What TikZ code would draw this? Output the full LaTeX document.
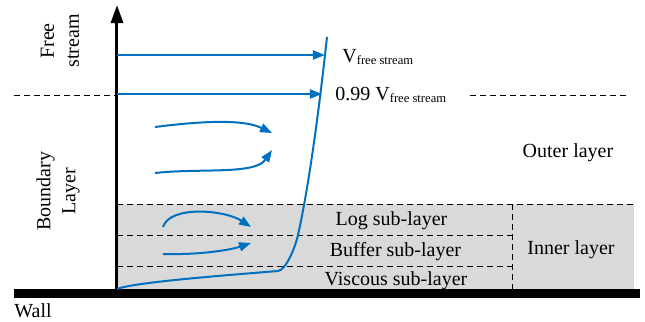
\documentclass[tikz,border=0pt]{standalone}
\usepackage{fontspec}
\setmainfont{Liberation Serif}
\usetikzlibrary{arrows.meta}
\definecolor{flowblue}{HTML}{0070C0}
\definecolor{layergray}{HTML}{D9D9D9}
\newcommand{\fsub}{\raisebox{-1pt}{\fontsize{6.3}{7}\selectfont free stream}}

\begin{document}
\begin{tikzpicture}[x=0.5pt,y=-0.5pt,
  every node/.style={inner sep=0pt,font=\fontsize{10}{12.5}\selectfont}
]

\tikzstyle{flow}=[draw=flowblue,line width=1pt,-{Triangle[length=6pt,width=4.5pt]}]
\tikzstyle{layerline}=[dash pattern=on 3pt off 2pt,line width=0.4pt]
\tikzstyle{lbl}=[anchor=base]
\tikzstyle{sidelbl}=[rotate=90,align=center]

\useasboundingbox (0,0) rectangle (645,322);

\fill[layergray] (117,204) rectangle (634,289);
\fill (14,289) rectangle (640,298);

\draw[layerline] (117,204) -- (634,204);
\draw[layerline] (117,235) -- (512,235);
\draw[layerline] (117,266) -- (512,266);
\draw[layerline] (512,204) -- (512,289);
\draw[layerline] (14,95) -- (117,95);
\draw[layerline] (470,95) -- (628,95);

\coordinate (o) at (117,289);
\coordinate (top) at (117,5);
\draw[line width=1.5pt,-{Triangle[length=9pt,width=6pt]}] (o) -- (top);

\draw[flowblue,line width=1pt] (o) .. controls (135,282) and (230,275) .. (278,271)
  .. controls (286,270) and (295,248) .. (298,235)
  .. controls (308,190) and (318,120) .. (327,37);

\coordinate (fs0) at (117,55);
\coordinate (fs1) at (325,55);
\coordinate (bl0) at (117,94);
\coordinate (bl1) at (322,94);
\draw[flow] (fs0) -- (fs1);
\draw[flow] (bl0) -- (bl1);

\coordinate (e1s) at (155,127);
\coordinate (e1e) at (272,133);
\coordinate (e2s) at (155,173);
\coordinate (e2e) at (272,150);
\coordinate (e3s) at (163,227);
\coordinate (e3e) at (251,227);
\coordinate (e4s) at (163,254);
\coordinate (e4e) at (251,243);
\draw[flow] (e1s) .. controls (210,120) and (245,120) .. (e1e);
\draw[flow] (e2s) .. controls (200,168) and (255,175) .. (e2e);
\draw[flow] (e3s) .. controls (170,205) and (225,210) .. (e3e);
\draw[flow] (e4s) .. controls (200,255) and (230,250) .. (e4e);

\node[anchor=base west] (vfs) at (342,62) {V\fsub};
\node[anchor=base west] (v99) at (335,100) {0.99 V\fsub};

\node[lbl] (outer) at (568,157) {Outer layer};
\node[lbl] (inner) at (571,254) {Inner layer};
\node[lbl] (logl) at (391.5,225) {Log sub-layer};
\node[lbl] (bufl) at (395.5,256) {Buffer sub-layer};
\node[lbl] (visl) at (396,285) {Viscous sub-layer};
\node[anchor=base west] (wall) at (14,317) {Wall};

\node[sidelbl] (free) at (60,41) {Free\\stream};
\node[sidelbl] (bound) at (58,191) {Boundary\\Layer};
\end{tikzpicture}
\end{document}
